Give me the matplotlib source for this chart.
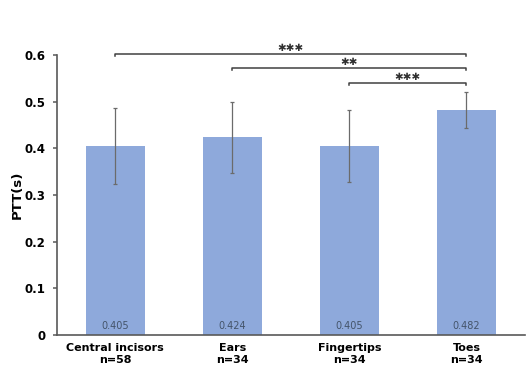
import numpy as np
import matplotlib.pyplot as plt

categories = ["Central incisors\nn=58", "Ears\nn=34", "Fingertips\nn=34", "Toes\nn=34"]
means = [0.405, 0.424, 0.405, 0.482]
sds = [0.082, 0.076, 0.078, 0.039]
value_labels = ["0.405", "0.424", "0.405", "0.482"]

# significance brackets: (from, to, bracket level, stars)
brackets = [(0, 3, 0.6025, "✱✱✱"), (1, 3, 0.573, "✱✱"), (2, 3, 0.541, "✱✱✱")]

bar_color = "#8EA9DB"
axis_color = "#595959"

fig = plt.figure(figsize=(5.26, 3.69), dpi=100)
ax = fig.add_axes([0.108, 0.092, 0.890, 0.759])

x = np.arange(len(categories))
ax.bar(x, means, width=0.5, color=bar_color, zorder=2)
ax.errorbar(x, means, yerr=sds, fmt="none", ecolor="#6b6b6b",
            elinewidth=0.9, capsize=1.5, capthick=0.9, zorder=3)

for xi, lab in zip(x, value_labels):
    ax.text(xi, 0.019, lab, ha="center", va="center", fontsize=7,
            color="#44546A", zorder=4)

for a, b, h, stars in brackets:
    ax.plot([a, a, b, b], [h - 0.005, h, h, h - 0.005], color="#404040",
            lw=1.1, clip_on=False, zorder=5)
    ax.text((a + b) / 2, h + 0.002, stars, ha="center", va="bottom",
            fontsize=7.5, color="#303030")

ax.set_xlim(-0.5, 3.5)
ax.set_ylim(0, 0.6)
ax.set_yticks([0, 0.1, 0.2, 0.3, 0.4, 0.5, 0.6])
ax.set_yticklabels(["0", "0.1", "0.2", "0.3", "0.4", "0.5", "0.6"])
ax.set_xticks(x)
ax.set_xticklabels(categories, fontsize=8, fontweight="bold", linespacing=1.15)
ax.tick_params(axis="x", length=0, pad=6)
ax.tick_params(axis="y", length=3, width=1.1, color=axis_color,
               labelsize=8.5, pad=5)
for lab in ax.get_yticklabels():
    lab.set_fontweight("bold")

ax.set_ylabel("PTT(s)", fontsize=9.5, fontweight="bold", labelpad=1)

for side in ["top", "right"]:
    ax.spines[side].set_visible(False)
for side in ["left", "bottom"]:
    ax.spines[side].set_color(axis_color)
    ax.spines[side].set_linewidth(1.2)

fig.savefig("out.png", dpi=100)
